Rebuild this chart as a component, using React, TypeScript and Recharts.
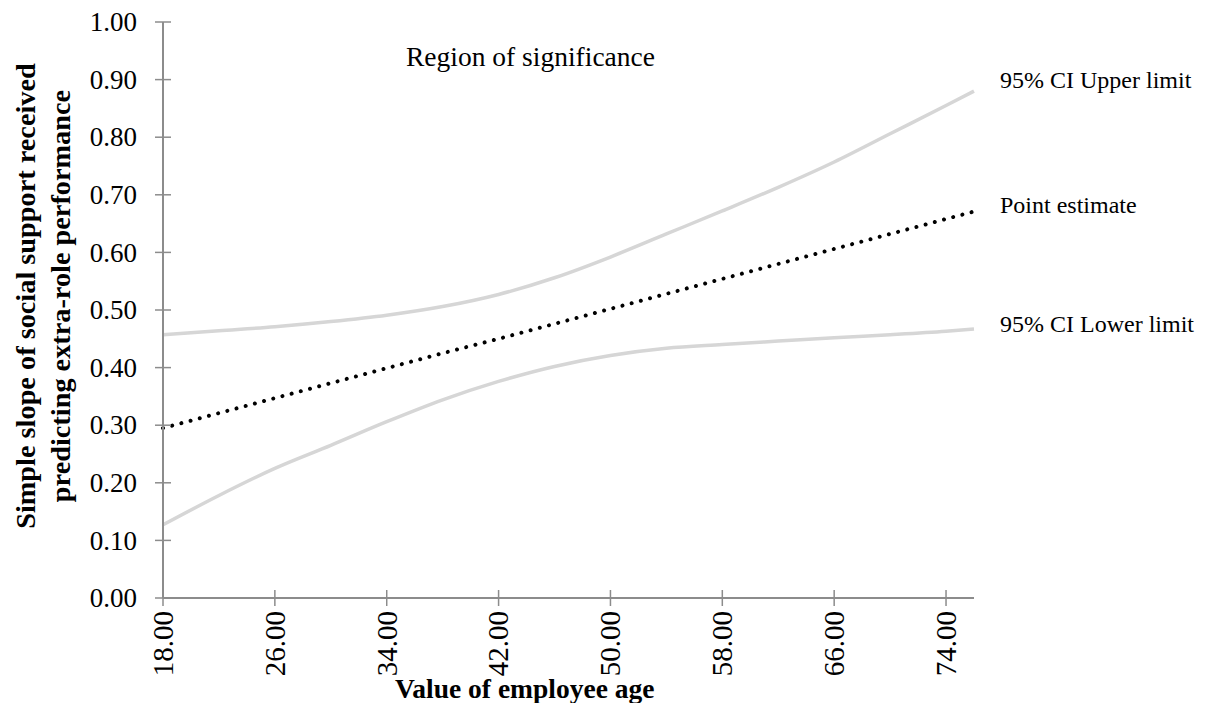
import { LineChart, Line, XAxis, YAxis } from 'recharts'

// employee age (x) and the simple slope with its 95% CI
const ages = [18, 22, 26, 30, 34, 38, 42, 46, 50, 54, 58, 62, 66, 70, 74, 76]
const pointEstimate = [0.295, 0.321, 0.347, 0.373, 0.399, 0.425, 0.45, 0.476, 0.502, 0.528, 0.554, 0.58, 0.606, 0.632, 0.658, 0.671]
const upperLimit = [0.457, 0.464, 0.471, 0.48, 0.491, 0.506, 0.527, 0.556, 0.592, 0.632, 0.672, 0.713, 0.757, 0.806, 0.855, 0.88]
const lowerLimit = [0.127, 0.178, 0.225, 0.265, 0.306, 0.344, 0.376, 0.402, 0.421, 0.4335, 0.44, 0.446, 0.452, 0.457, 0.463, 0.467]

const xTicks = [18, 26, 34, 42, 50, 58, 66, 74]
const yTicks = [0, 0.1, 0.2, 0.3, 0.4, 0.5, 0.6, 0.7, 0.8, 0.9, 1.0]

const AXIS = '#8c8c8c'
const CI = '#d6d6d6'
const FONT = "'Liberation Serif', 'Times New Roman', serif"

const data = ages.map((age, i) => ({
  age,
  upper: upperLimit[i],
  point: pointEstimate[i],
  lower: lowerLimit[i],
}))

// Excel style "cross" tick marks: recharts draws the outside half, we add the inside half
function YTick(props: any) {
  const { x, y, payload } = props
  const ax = x + 26
  return (
    <g>
      <line x1={ax} x2={ax + 8} y1={y} y2={y} stroke={AXIS} strokeWidth={1.5} />
      <text x={x} y={y} dy="0.34em" textAnchor="end" fontFamily={FONT} fontSize={27} fill="#000">
        {Number(payload.value).toFixed(2)}
      </text>
    </g>
  )
}

function XTick(props: any) {
  const { x, y, payload } = props
  const ay = y - 13
  return (
    <g>
      <line x1={x} x2={x} y1={ay - 8} y2={ay} stroke={AXIS} strokeWidth={1.5} />
      <text
        x={x}
        y={y}
        dy="0.34em"
        transform={`rotate(-90 ${x} ${y})`}
        textAnchor="end"
        fontFamily={FONT}
        fontSize={29}
        fill="#000"
      >
        {Number(payload.value).toFixed(2)}
      </text>
    </g>
  )
}

const label = (top: number, left: number, size: number, text: string, bold = false) => (
  <div
    style={{
      position: 'absolute',
      top,
      left,
      fontFamily: FONT,
      fontSize: size,
      lineHeight: 1,
      fontWeight: bold ? 'bold' : 'normal',
      whiteSpace: 'nowrap',
      color: '#000',
    }}
  >
    {text}
  </div>
)

export default function App() {
  return (
    <div style={{ position: 'absolute', left: 0, top: 0, width: 1208, height: 703, background: '#fff', overflow: 'hidden' }}>
      <LineChart width={1208} height={703} data={data} margin={{ top: 22, right: 234, left: 0, bottom: 0 }}>
        <XAxis
          dataKey="age"
          type="number"
          domain={[18, 76]}
          ticks={xTicks}
          interval={0}
          height={105}
          stroke={AXIS}
          strokeWidth={2}
          tickSize={8}
          tickMargin={5}
          tickLine={{ stroke: AXIS, strokeWidth: 1.5 }}
          tick={<XTick />}
        />
        <YAxis
          type="number"
          domain={[0, 1]}
          ticks={yTicks}
          interval={0}
          width={163}
          stroke={AXIS}
          strokeWidth={2}
          tickSize={8}
          tickMargin={18}
          tickLine={{ stroke: AXIS, strokeWidth: 1.5 }}
          tick={<YTick />}
        />
        <Line dataKey="upper" type="monotone" stroke={CI} strokeWidth={3.5} dot={false} isAnimationActive={false} />
        <Line dataKey="lower" type="monotone" stroke={CI} strokeWidth={3.5} dot={false} isAnimationActive={false} />
        <Line
          dataKey="point"
          type="linear"
          stroke="#000"
          strokeWidth={4}
          strokeDasharray="0.01 9.5"
          strokeLinecap="round"
          dot={false}
          isAnimationActive={false}
        />
      </LineChart>

      {label(43, 406, 27.5, 'Region of significance')}
      {label(68, 1000, 24, '95% CI Upper limit')}
      {label(193, 1000, 24, 'Point estimate')}
      {label(312, 1000, 24, '95% CI Lower limit')}
      {label(675, 395, 27.5, 'Value of employee age', true)}

      <div
        style={{
          position: 'absolute',
          left: 42.5 - 300,
          top: 296 - 35,
          width: 600,
          height: 70,
          transform: 'rotate(-90deg)',
          transformOrigin: 'center',
          textAlign: 'center',
          fontFamily: FONT,
          fontSize: 28.3,
          lineHeight: '35px',
          fontWeight: 'bold',
          whiteSpace: 'nowrap',
          color: '#000',
        }}
      >
        Simple slope of social support received
        <br />
        predicting extra-role performance
      </div>
    </div>
  )
}
